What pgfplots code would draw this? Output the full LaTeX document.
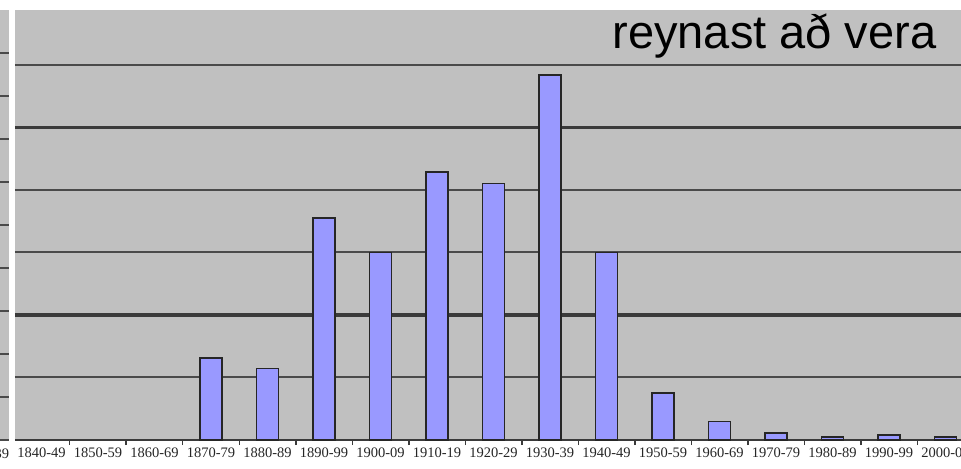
\documentclass[border=0pt]{standalone}
\usepackage{pgfplots}
\pgfplotsset{compat=1.18}
\usepackage{fontspec}
\setmainfont{Liberation Serif}
\newfontfamily\arialfont{Liberation Sans}
\definecolor{bg}{HTML}{C0C0C0}
\definecolor{barfill}{HTML}{9999FF}
\definecolor{gridc}{HTML}{4A4A4A}
\definecolor{gridd}{HTML}{3A3A3A}
\begin{document}
\begin{tikzpicture}
\path[use as bounding box] (0,0) rectangle (961bp,469bp);
% cropped strip of a neighbouring panel on the left
\begin{axis}[
  at={(0bp,29bp)}, anchor=south west,
  width=9bp, height=430bp, scale only axis,
  xmin=0, xmax=1, ymin=0, ymax=10,
  xtick=\empty, ytick={0,...,9}, yticklabels={},
  ymajorgrids, grid style={gridc, line width=1.6bp},
  ytick style={draw=none},
  axis background/.style={fill=bg},
  axis line style={draw=none},
]
\end{axis}
\begin{axis}[
  at={(15bp,29bp)}, anchor=south west,
  x=56.5bp, y=6.25bp,
  xmin=-0.469, xmax=16.27, ymin=0, ymax=68.8,
  clip=false,
  axis background/.style={fill=bg},
  axis x line*=bottom, axis y line*=left,
  x axis line style={gridd, line width=1.5bp},
  y axis line style={draw=none},
  xtick={0,...,16},
  xticklabels={1840-49,1850-59,1860-69,1870-79,1880-89,1890-99,1900-09,1910-19,1920-29,1930-39,1940-49,1950-59,1960-69,1970-79,1980-89,1990-99,2000-09},
  major x tick style={draw=none},
  minor xtick={0.5,1.5,...,15.5},
  minor x tick style={gridd, line width=1.5bp},
  minor tick length=5bp,
  tick align=outside,
  ytick={10,30,40,60}, yticklabels={},
  ytick style={draw=none},
  ymajorgrids,
  grid style={gridc, line width=2bp},
  extra y ticks={20,50}, extra y tick labels={},
  extra y tick style={major grid style={gridd, line width=3.8bp}, tick style={draw=none}},
  x tick label style={font=\fontsize{14.5bp}{16bp}\selectfont, text=black!85},
  ybar, bar width=22bp,
]
\addplot[fill=barfill, draw=black!85, line width=1.4bp] coordinates {
  (3,13.1) (4,11.4) (5,35.5) (6,30) (7,42.9) (8,41) (9,58.4) (10,30)
  (11,7.5) (12,3.0) (13,1.1) (14,0.5) (15,0.8) (16,0.5)};
\node[anchor=north, font=\fontsize{14.5bp}{16bp}\selectfont, text=black!85, yshift=-5bp] at (axis cs:-1,0) {1830-39};
\end{axis}
\node[anchor=base east, font=\arialfont\fontsize{47bp}{50bp}\selectfont] at (940bp,420bp) {reynast að vera};
\end{tikzpicture}
\end{document}
